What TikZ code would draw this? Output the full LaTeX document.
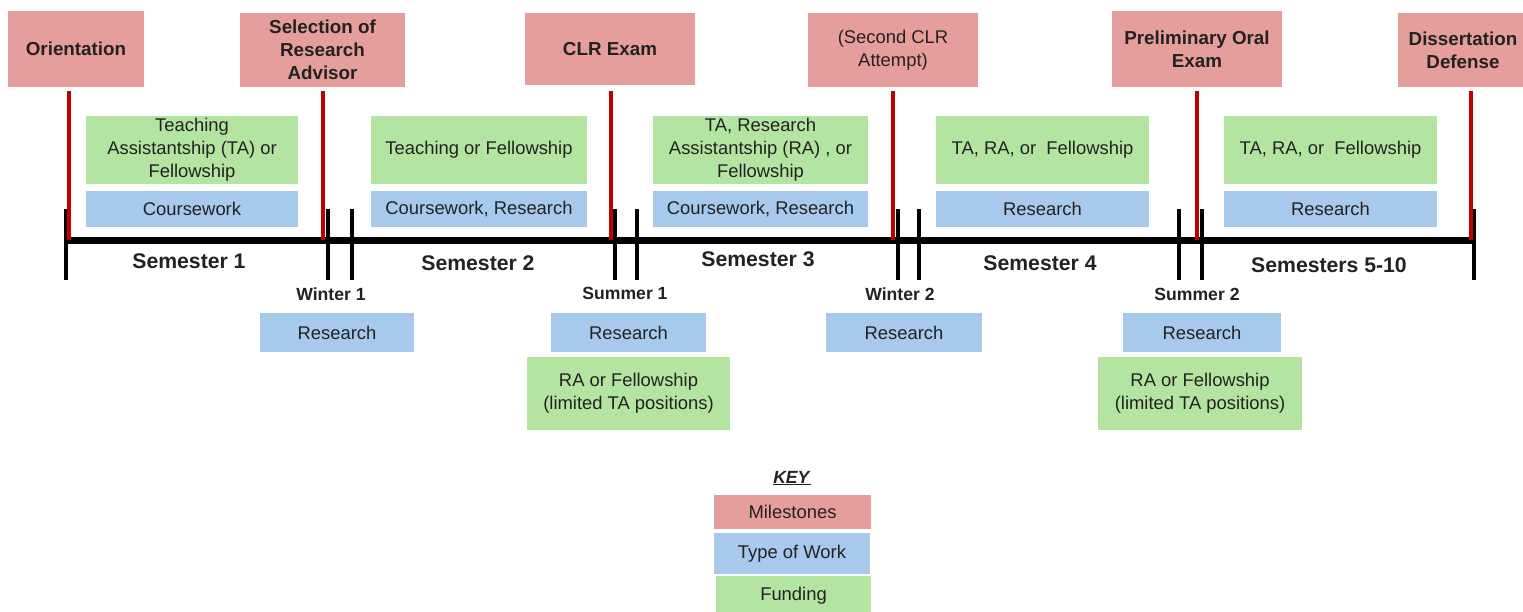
\documentclass[tikz,border=0pt]{standalone}
\usepackage{fontspec}
\setmainfont{Liberation Sans}
\usepackage{tikz}

\definecolor{milefill}{HTML}{E59E9C}
\definecolor{fundfill}{HTML}{B4E4A1}
\definecolor{workfill}{HTML}{A7C9EB}
\definecolor{mileline}{HTML}{C00000}
\definecolor{txt}{HTML}{222222}

\begin{document}
\begin{tikzpicture}[x=1pt, y=-1pt,
                    box/.style = {inner sep=0pt, align=center, text=txt},
                    mile/.style = {box, fill=milefill, font=\fontsize{18.8}{23}\selectfont\bfseries},
                    fund/.style = {box, fill=fundfill, font=\fontsize{18.4}{23}\selectfont},
                    work/.style = {box, fill=workfill, font=\fontsize{18.4}{23}\selectfont},
                    sem/.style = {text=txt, inner sep=0pt, font=\fontsize{21.2}{25}\selectfont\bfseries},
                    brk/.style = {text=txt, inner sep=0pt, font=\fontsize{17.6}{21}\selectfont\bfseries},
                    redline/.style = {mileline, line width=3.5pt},
                    tick/.style = {black, line width=4pt}]
                        \useasboundingbox (0,0) rectangle (1523,612);

                        % milestones
                        \node[mile, minimum width=136, minimum height=76] (M1) at (76,49) {Orientation};
                        \node[mile, minimum width=165, minimum height=74] (M2) at (322.5,50) {Selection of\\Research\\Advisor};
                        \node[mile, minimum width=170, minimum height=72] (M3) at (610,49) {CLR Exam};
                        \node[mile, minimum width=170, minimum height=74, font=\fontsize{18.4}{23}\selectfont] (M4) at (893,50) {(Second CLR\\Attempt)};
                        \node[mile, minimum width=170, minimum height=76] (M5) at (1197,49) {Preliminary Oral\\Exam};
                        \node[mile, minimum width=130, minimum height=74] (M6) at (1463,50) {Dissertation\\Defense};

                        % funding and work during the semesters
                        \node[fund, minimum width=212, minimum height=68] (F1) at (192,150) {Teaching\\Assistantship (TA) or\\Fellowship};
                        \node[fund, minimum width=216, minimum height=68] (F2) at (479,150) {Teaching or Fellowship};
                        \node[fund, minimum width=215, minimum height=68] (F3) at (760.5,150) {TA, Research\\Assistantship (RA) , or\\Fellowship};
                        \node[fund, minimum width=213, minimum height=68] (F4) at (1042.5,150) {TA, RA, or\ \ Fellowship};
                        \node[fund, minimum width=213, minimum height=68] (F5) at (1330.5,150) {TA, RA, or\ \ Fellowship};

                        \node[work, minimum width=212, minimum height=36] (W1) at (192,209) {Coursework};
                        \node[work, minimum width=216, minimum height=36] (W2) at (479,209) {Coursework, Research};
                        \node[work, minimum width=215, minimum height=36] (W3) at (760.5,209) {Coursework, Research};
                        \node[work, minimum width=213, minimum height=36] (W4) at (1042.5,209) {Research};
                        \node[work, minimum width=213, minimum height=36] (W5) at (1330.5,209) {Research};

                        % timeline
                        \coordinate (S) at (64,241);
                        \coordinate (E) at (1476,241);
                        \draw[black, line width=7pt] (S) -- (E);

                        \draw[tick] (66,209) -- (66,280);
                        \draw[tick] (328,209) -- (328,280);
                        \draw[tick] (352,209) -- (352,280);
                        \draw[tick] (615,209) -- (615,280);
                        \draw[tick] (637,209) -- (637,280);
                        \draw[tick] (898,209) -- (898,280);
                        \draw[tick] (919,209) -- (919,280);
                        \draw[tick] (1179,209) -- (1179,280);
                        \draw[tick] (1202,209) -- (1202,280);
                        \draw[tick] (1474,209) -- (1474,280);

                        % milestone markers
                        \coordinate (L1) at (69,91);    \coordinate (T1) at (69,240);
                        \coordinate (L2) at (323,91);   \coordinate (T2) at (323,240);
                        \coordinate (L3) at (611,91);   \coordinate (T3) at (611,240);
                        \coordinate (L4) at (893,91);   \coordinate (T4) at (893,240);
                        \coordinate (L5) at (1197,91);  \coordinate (T5) at (1197,240);
                        \coordinate (L6) at (1471,91);  \coordinate (T6) at (1471,240);
                        \draw[redline] (L1) -- (T1);
                        \draw[redline] (L2) -- (T2);
                        \draw[redline] (L3) -- (T3);
                        \draw[redline] (L4) -- (T4);
                        \draw[redline] (L5) -- (T5);
                        \draw[redline] (L6) -- (T6);

                        % period labels
                        \node[sem] (S1) at (189,261) {Semester 1};
                        \node[sem] (S2) at (478,263) {Semester 2};
                        \node[sem] (S3) at (758,259) {Semester 3};
                        \node[sem] (S4) at (1040,263) {Semester 4};
                        \node[sem] (S5) at (1329,265) {Semesters 5-10};

                        \node[brk] (B1) at (331,294) {Winter 1};
                        \node[brk] (B2) at (625,293) {Summer 1};
                        \node[brk] (B3) at (900,294) {Winter 2};
                        \node[brk] (B4) at (1197,294) {Summer 2};

                        % breaks
                        \node[work, minimum width=154, minimum height=39] (R1) at (337,332.5) {Research};
                        \node[work, minimum width=155, minimum height=39] (R2) at (628.5,332.5) {Research};
                        \node[work, minimum width=156, minimum height=39] (R3) at (904,332.5) {Research};
                        \node[work, minimum width=158, minimum height=39] (R4) at (1202,332.5) {Research};

                        \node[fund, minimum width=203, minimum height=73] (A1) at (628.5,393.5) {RA or Fellowship\\(limited TA positions)};
                        \node[fund, minimum width=204, minimum height=73] (A2) at (1200,393.5) {RA or Fellowship\\(limited TA positions)};

                        % key
                        \node[text=txt, inner sep=0pt, font=\fontsize{17.6}{21}\selectfont] (K) at (792,478) {\underline{\textbf{\textit{KEY}}}};
                        \node[mile, minimum width=157, minimum height=34, font=\fontsize{18.4}{23}\selectfont] (K1) at (792.5,512) {Milestones};
                        \node[work, minimum width=156, minimum height=41] (K2) at (792,553.5) {Type of Work};
                        \node[fund, minimum width=155, minimum height=40] (K3) at (793.5,596) {Funding};
                    \end{tikzpicture}
\end{document}
